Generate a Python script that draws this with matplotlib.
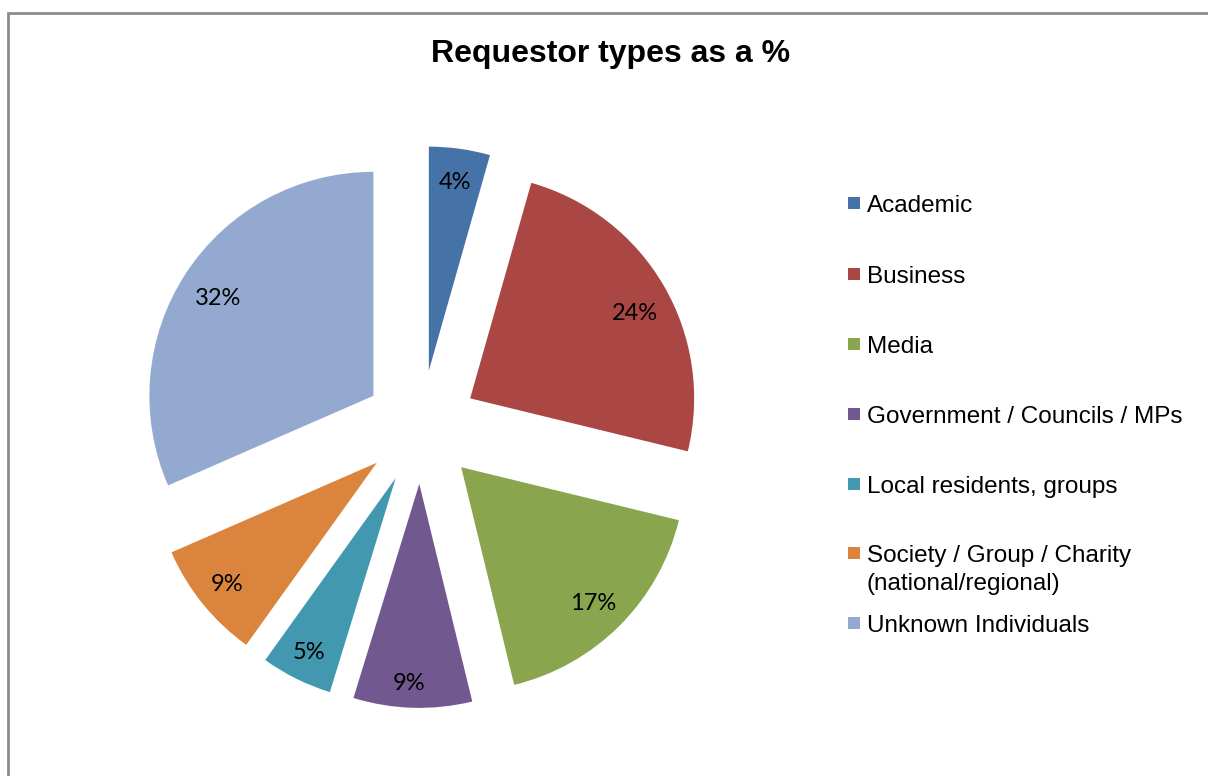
import math
import matplotlib
matplotlib.use("Agg")
import matplotlib.pyplot as plt
from matplotlib.patches import Rectangle

categories = ["Academic", "Business", "Media", "Government / Councils / MPs",
              "Local residents, groups", "Society / Group / Charity\n(national/regional)",
              "Unknown Individuals"]
values = [4.4, 24.4, 17.4, 8.55, 5.15, 8.55, 31.55]
colors = ["#4572A7", "#AA4643", "#89A54E", "#71588F", "#4198AF", "#DB843D", "#93A9CF"]
title = "Requestor types as a %"

W, H = 1208, 776
fig = plt.figure(figsize=(W / 100, H / 100), dpi=100)
fig.patch.set_facecolor("white")
ax = fig.add_axes([0, 0, 1, 1])

R = 224
cx, cy = 421, 427
wedges, _, autotexts = ax.pie(
    values, colors=colors, radius=R, center=(cx, H - cy),
    explode=[0.254 * R] * len(values), startangle=90, counterclock=False,
    autopct="%1.0f%%", pctdistance=0.85,
    textprops=dict(fontsize=17, family="Lato", color="black"),
    wedgeprops=dict(linewidth=0))

# label placement (fraction of radius, clockwise angle nudge in degrees), like Excel's best fit
label_dist = [0.85, 0.829, 0.845, 0.894, 0.871, 0.862, 0.819]
label_nudge = [0.0, 2.9, 0.9, 1.2, 0.0, 0.0, -1.0]
for w, t, f, n in zip(wedges, autotexts, label_dist, label_nudge):
    mid = math.radians(0.5 * (w.theta1 + w.theta2) - n)
    x0, y0 = w.center
    t.set_position((x0 + f * w.r * math.cos(mid), y0 + f * w.r * math.sin(mid)))

ax.set_xlim(0, W)
ax.set_ylim(0, H)
ax.axis("off")

# frame
fig.patches.append(Rectangle((8, -20), W + 40, H - 13 + 20, transform=None,
                             fill=False, edgecolor="#8c8c8c", linewidth=2.0))

# title
ax.text(611, H - 62, title, ha="center", va="baseline", fontsize=23,
        fontweight="bold", family="Liberation Sans", color="black")

# legend
sq_centers = [203, 274, 344, 414, 484, 553, 623]
for lab, col, yc in zip(categories, colors, sq_centers):
    ax.add_patch(Rectangle((848, H - yc - 6), 12, 12, facecolor=col, edgecolor="none"))
    for j, line in enumerate(lab.split("\n")):
        ax.text(867, H - (yc + 9 + 28 * j), line, ha="left", va="baseline",
                fontsize=17.5, family="Liberation Sans", color="black")

fig.savefig("out.png", dpi=100, facecolor="white")
